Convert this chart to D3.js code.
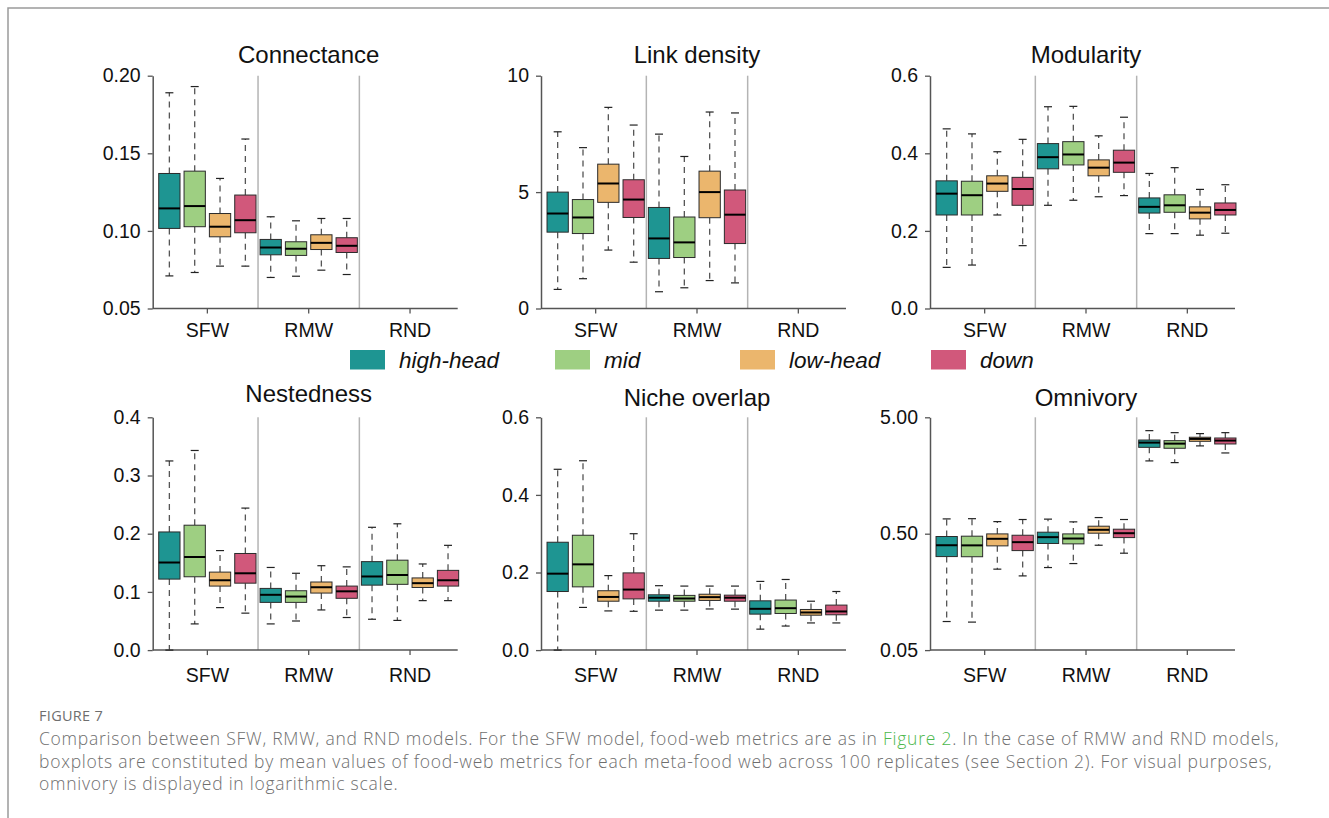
<!DOCTYPE html>
<html>
<head>
<meta charset="utf-8">
<script src="https://cdn.jsdelivr.net/npm/d3@7"></script>
<style>
body { margin: 0; background: #fff; }
svg { display: block; }
</style>
</head>
<body>
<div id="chart"></div>
<script>
var w = 1329;
var h = 818;

// categories
var groups = ["SFW", "RMW", "RND"];
var series = ["high-head", "mid", "low-head", "down"];
var colours = ["#1e9592", "#9ecf82", "#ebb66d", "#d1587b"];

// box stats per model: [lower whisker, Q1, median, Q3, upper whisker], order high-head, mid, low-head, down
var connectance = [
    [[0.071, 0.1016, 0.1145, 0.137, 0.189], [0.0732, 0.1027, 0.116, 0.1385, 0.193], [0.0773, 0.0962, 0.1027, 0.1112, 0.1338], [0.0773, 0.0988, 0.1069, 0.1231, 0.1592]],
    [[0.070, 0.0846, 0.0893, 0.0945, 0.1091], [0.0708, 0.0842, 0.0885, 0.093, 0.1065], [0.0747, 0.088, 0.0923, 0.0975, 0.108], [0.0719, 0.0861, 0.0904, 0.0956, 0.108]],
    []
];
var linkDensity = [
    [[0.82, 3.28, 4.08, 5.0, 7.59], [1.28, 3.22, 3.91, 4.68, 6.91], [2.51, 4.56, 5.37, 6.2, 8.64], [1.99, 3.91, 4.68, 5.53, 7.88]],
    [[0.72, 2.15, 3.01, 4.34, 7.49], [0.89, 2.19, 2.84, 3.93, 6.53], [1.2, 3.9, 5.0, 5.9, 8.44], [1.1, 2.79, 4.03, 5.09, 8.4]],
    []
];
var modularity = [
    [[0.106, 0.241, 0.296, 0.329, 0.463], [0.112, 0.241, 0.292, 0.328, 0.45], [0.241, 0.302, 0.322, 0.342, 0.404], [0.162, 0.266, 0.308, 0.338, 0.436]],
    [[0.266, 0.36, 0.39, 0.425, 0.52], [0.279, 0.37, 0.397, 0.43, 0.521], [0.288, 0.342, 0.363, 0.383, 0.445], [0.291, 0.351, 0.376, 0.408, 0.493]],
    [[0.193, 0.246, 0.262, 0.285, 0.348], [0.193, 0.248, 0.266, 0.293, 0.363], [0.189, 0.231, 0.247, 0.262, 0.307], [0.194, 0.241, 0.254, 0.272, 0.319]]
];
var nestedness = [
    [[0.0, 0.122, 0.1505, 0.203, 0.325], [0.045, 0.126, 0.16, 0.2146, 0.343], [0.073, 0.11, 0.12, 0.134, 0.171], [0.0635, 0.115, 0.132, 0.166, 0.244]],
    [[0.045, 0.082, 0.095, 0.106, 0.142], [0.05, 0.082, 0.092, 0.102, 0.132], [0.069, 0.098, 0.108, 0.117, 0.145], [0.056, 0.089, 0.101, 0.11, 0.143]],
    [[0.053, 0.1116, 0.1265, 0.152, 0.211], [0.051, 0.113, 0.129, 0.1545, 0.217], [0.085, 0.1076, 0.115, 0.124, 0.148], [0.085, 0.11, 0.12, 0.137, 0.18]]
];
var nicheOverlap = [
    [[0.0, 0.151, 0.197, 0.278, 0.466], [0.11, 0.163, 0.221, 0.296, 0.488], [0.101, 0.126, 0.137, 0.153, 0.192], [0.1, 0.132, 0.156, 0.199, 0.3]],
    [[0.103, 0.126, 0.135, 0.1425, 0.166], [0.103, 0.126, 0.133, 0.141, 0.165], [0.106, 0.128, 0.1365, 0.144, 0.165], [0.1056, 0.126, 0.135, 0.1416, 0.165]],
    [[0.054, 0.0927, 0.1064, 0.127, 0.177], [0.062, 0.0944, 0.108, 0.129, 0.182], [0.07, 0.09, 0.097, 0.1047, 0.126], [0.07, 0.091, 0.0996, 0.116, 0.151]]
];
var omnivory = [
    [[0.088, 0.318, 0.398, 0.473, 0.67], [0.087, 0.317, 0.397, 0.476, 0.673], [0.248, 0.393, 0.452, 0.498, 0.635], [0.217, 0.358, 0.423, 0.485, 0.662]],
    [[0.256, 0.412, 0.467, 0.515, 0.667], [0.277, 0.409, 0.4545, 0.498, 0.632], [0.398, 0.505, 0.54, 0.58, 0.688], [0.34, 0.463, 0.505, 0.5465, 0.662]],
    [[2.11, 2.76, 3.03, 3.19, 3.84], [2.04, 2.71, 2.97, 3.15, 3.69], [2.84, 3.11, 3.26, 3.37, 3.62], [2.47, 2.95, 3.155, 3.32, 3.69]]
];

// titles and tick labels
var titles = ["Connectance", "Link density", "Modularity", "Nestedness", "Niche overlap", "Omnivory"];
var connectanceTicks = [0.05, 0.10, 0.15, 0.20];
var linkDensityTicks = [0, 5, 10];
var modularityTicks = [0.0, 0.2, 0.4, 0.6];
var nestednessTicks = [0.0, 0.1, 0.2, 0.3, 0.4];
var nicheOverlapTicks = [0.0, 0.2, 0.4, 0.6];
var omnivoryTicks = [0.05, 0.50, 5.00];

var captionHead = "FIGURE 7";
var captionLines = [
    ["Comparison between SFW, RMW, and RND models. For the SFW model, food-web metrics are as in ", "Figure 2", ". In the case of RMW and RND models,"],
    ["boxplots are constituted by mean values of food-web metrics for each meta-food web across 100 replicates (see Section 2). For visual purposes,"],
    ["omnivory is displayed in logarithmic scale."]
];

var panels = [
    { data: connectance, ticks: connectanceTicks, fmt: ".2f", log: false },
    { data: linkDensity, ticks: linkDensityTicks, fmt: "d", log: false },
    { data: modularity, ticks: modularityTicks, fmt: ".1f", log: false },
    { data: nestedness, ticks: nestednessTicks, fmt: ".1f", log: false },
    { data: nicheOverlap, ticks: nicheOverlapTicks, fmt: ".1f", log: false },
    { data: omnivory, ticks: omnivoryTicks, fmt: ".2f", log: true }
];

// layout
var colX = [152.7, 541, 930];
var rowTop = [75.7, 417.3];
var plotH = 232.8;
var plotW = 305;
var titleDy = [-13, -13, -13, -15, -11, -11];
var labelPad = [10, 13];
var tickFont = "'Liberation Sans', Arial, Helvetica, sans-serif";

var svg = d3.select("#chart")
    .append("svg")
    .attr("width", w)
    .attr("height", h);

// outer frame (top and left only)
svg.append("path")
    .attr("d", "M8," + h + "V8H" + w)
    .attr("fill", "none")
    .attr("stroke", "#9a9a9a")
    .attr("stroke-width", 1.5);

var inner = d3.scaleBand().domain(series).range([0, 1]);

panels.forEach(function(p, pi) {
    var x0 = colX[pi % 3];
    var y0 = rowTop[Math.floor(pi / 3)];
    var row = Math.floor(pi / 3);

    var g = svg.append("g")
        .attr("class", "panel")
        .attr("transform", "translate(" + x0 + "," + y0 + ")");

    var yScale = p.log
        ? d3.scaleLog().domain([p.ticks[0], p.ticks[p.ticks.length - 1]]).range([plotH, 0])
        : d3.scaleLinear().domain([p.ticks[0], p.ticks[p.ticks.length - 1]]).range([plotH, 0]);

    var xScale = d3.scaleBand()
        .domain(groups)
        .range([4, plotW + 3])
        .padding(0);

    var step = xScale.bandwidth();
    var sub = inner.copy().range([0, step]);
    var boxW = sub.bandwidth() * 0.84;

    // group separators
    g.selectAll(".sep")
        .data(groups.slice(1))
        .enter().append("line")
        .attr("class", "sep")
        .attr("x1", function(d) { return xScale(d); })
        .attr("x2", function(d) { return xScale(d); })
        .attr("y1", 0)
        .attr("y2", plotH)
        .attr("stroke", "#b4b4b4")
        .attr("stroke-width", 1.5);

    // y axis
    var yAxis = d3.axisLeft(yScale)
        .tickValues(p.ticks)
        .tickFormat(d3.format(p.fmt))
        .tickSize(5)
        .tickSizeOuter(0)
        .tickPadding(7);

    var ya = g.append("g").attr("class", "y-axis").call(yAxis);
    ya.select(".domain").attr("stroke", "#555").attr("stroke-width", 1.5);
    ya.selectAll(".tick line").attr("stroke", "#555").attr("stroke-width", 1.3);
    ya.selectAll(".tick text")
        .attr("fill", "#111")
        .style("font-family", tickFont)
        .style("font-size", "19.5px");

    // x axis
    var xAxis = d3.axisBottom(xScale)
        .tickSize(5)
        .tickSizeOuter(0)
        .tickPadding(labelPad[row]);

    var xa = g.append("g")
        .attr("class", "x-axis")
        .attr("transform", "translate(0," + plotH + ")")
        .call(xAxis);
    xa.select(".domain").remove();
    xa.append("line")
        .attr("x1", 0)
        .attr("x2", plotW)
        .attr("stroke", "#555")
        .attr("stroke-width", 1.5);
    xa.selectAll(".tick line").attr("stroke", "#555").attr("stroke-width", 1.3);
    xa.selectAll(".tick text")
        .attr("fill", "#111")
        .style("font-family", tickFont)
        .style("font-size", "19.5px");

    // title
    g.append("text")
        .attr("x", xScale(groups[1]) + step / 2)
        .attr("y", titleDy[pi])
        .attr("text-anchor", "middle")
        .attr("fill", "#111")
        .style("font-family", tickFont)
        .style("font-size", "24px")
        .text(titles[pi]);

    // boxes
    var boxes = [];
    p.data.forEach(function(grp, gi) {
        grp.forEach(function(s, si) {
            boxes.push({ group: groups[gi], series: series[si], colour: colours[si], v: s });
        });
    });

    var bx = g.selectAll(".box")
        .data(boxes)
        .enter().append("g")
        .attr("class", "box")
        .attr("transform", function(d) {
            return "translate(" + (xScale(d.group) + sub(d.series) + sub.bandwidth() / 2) + ",0)";
        });

    // dashed whiskers
    bx.append("line")
        .attr("y1", function(d) { return yScale(d.v[3]); })
        .attr("y2", function(d) { return yScale(d.v[4]); })
        .attr("stroke", "#555")
        .attr("stroke-width", 1.3)
        .attr("stroke-dasharray", "6,5");
    bx.append("line")
        .attr("y1", function(d) { return yScale(d.v[1]); })
        .attr("y2", function(d) { return yScale(d.v[0]); })
        .attr("stroke", "#555")
        .attr("stroke-width", 1.3)
        .attr("stroke-dasharray", "6,5");

    // caps
    [0, 4].forEach(function(k) {
        bx.append("line")
            .attr("x1", -4)
            .attr("x2", 4)
            .attr("y1", function(d) { return yScale(d.v[k]); })
            .attr("y2", function(d) { return yScale(d.v[k]); })
            .attr("stroke", "#222")
            .attr("stroke-width", 1.2);
    });

    bx.append("rect")
        .attr("x", -boxW / 2)
        .attr("width", boxW)
        .attr("y", function(d) { return yScale(d.v[3]); })
        .attr("height", function(d) { return yScale(d.v[1]) - yScale(d.v[3]); })
        .attr("fill", function(d) { return d.colour; })
        .attr("stroke", "#2b2b2b")
        .attr("stroke-width", 1);

    bx.append("line")
        .attr("x1", -boxW / 2)
        .attr("x2", boxW / 2)
        .attr("y1", function(d) { return yScale(d.v[2]); })
        .attr("y2", function(d) { return yScale(d.v[2]); })
        .attr("stroke", "#000")
        .attr("stroke-width", 2);
});

// legend
var legendX = [350, 555, 740, 931];
var legend = svg.append("g").attr("class", "legend");

legend.selectAll("rect")
    .data(series)
    .enter().append("rect")
    .attr("x", function(d, i) { return legendX[i]; })
    .attr("y", 350)
    .attr("width", 35)
    .attr("height", 19.5)
    .attr("fill", function(d, i) { return colours[i]; });

legend.selectAll("text")
    .data(series)
    .enter().append("text")
    .attr("x", function(d, i) { return legendX[i] + 49; })
    .attr("y", 368)
    .attr("fill", "#111")
    .style("font-family", tickFont)
    .style("font-style", "italic")
    .style("font-size", "22.5px")
    .text(function(d) { return d; });

// caption
var capFont = "'Open Sans', 'Noto Sans', sans-serif";
svg.append("text")
    .attr("x", 39)
    .attr("y", 721)
    .attr("fill", "#6e6e6e")
    .style("font-family", capFont)
    .style("font-size", "14.5px")
    .style("letter-spacing", "0.3px")
    .text(captionHead);

captionLines.forEach(function(parts, li) {
    var t = svg.append("text")
        .attr("x", 39)
        .attr("y", 745 + li * 22.5)
        .attr("fill", "#6e6e6e")
        .style("font-family", capFont)
        .style("font-weight", 300)
        .style("font-size", "17.5px")
        .style("letter-spacing", "0.75px");
    parts.forEach(function(s, k) {
        t.append("tspan")
            .attr("fill", k === 1 ? "#4cb84c" : null)
            .text(s);
    });
});
</script>
</body>
</html>
